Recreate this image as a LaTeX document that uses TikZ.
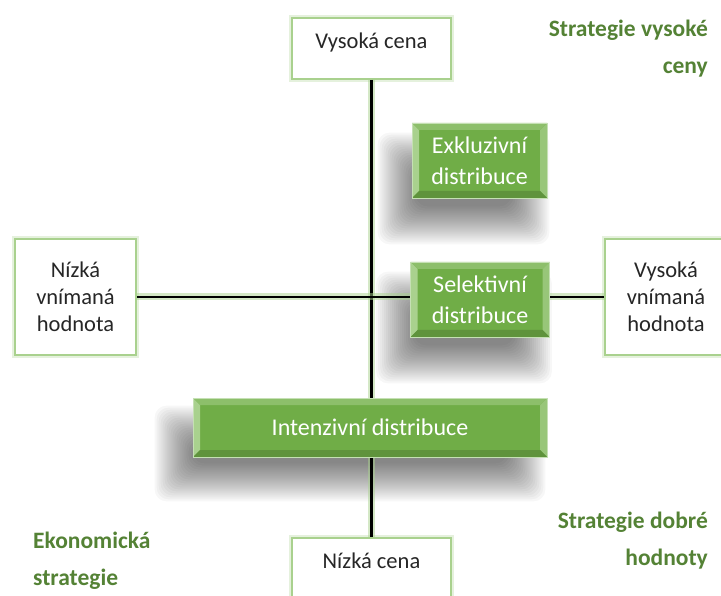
\documentclass[tikz,border=0pt]{standalone}
\usepackage{fontspec}
\setmainfont{Carlito}
\usetikzlibrary{calc,backgrounds}
\definecolor{gbox}{HTML}{70AD47}
\definecolor{glight}{HTML}{A9D18E}
\definecolor{gpale}{HTML}{C5E0B4}
\definecolor{gtxt}{HTML}{548235}
\definecolor{ink}{HTML}{262626}
\tikzset{
  whitebox/.style={fill=white, draw=glight, line width=2pt, text=ink,
    align=center, inner sep=0pt, font=\fontsize{22.5}{27}\selectfont,
    preaction={draw=gpale, line width=6pt, opacity=0.45}},
  greenbox/.style={fill=gbox, draw=gpale, line width=0.8pt, text=white,
    align=center, inner sep=0pt, font=\fontsize{24}{31}\selectfont,
    path picture={
      \fill[glight] (path picture bounding box.north west) -- ++(7pt,-7pt) -- ($(path picture bounding box.south west)+(7pt,7pt)$) -- (path picture bounding box.south west) -- cycle;
      \fill[glight!70!gbox] (path picture bounding box.north east) -- ++(-7pt,-7pt) -- ($(path picture bounding box.south east)+(-7pt,7pt)$) -- (path picture bounding box.south east) -- cycle;
      \fill[glight!50!gbox] (path picture bounding box.north west) -- (path picture bounding box.north east) -- ++(-7pt,-7pt) -- ($(path picture bounding box.north west)+(7pt,-7pt)$) -- cycle;
      \fill[gbox!85!black] (path picture bounding box.south west) -- (path picture bounding box.south east) -- ++(-7pt,7pt) -- ($(path picture bounding box.south west)+(7pt,7pt)$) -- cycle;
    }},
  shadowlayer/.style={fill=black, opacity=0.03, rounded corners=12pt},
  axis/.style={draw=black, line width=2.5pt,
    preaction={draw=glight, line width=7pt, opacity=0.5}},
  strat/.style={text=gtxt, font=\fontsize{23.5}{37}\selectfont\bfseries, inner sep=0pt},
}
\newcommand\softshadow[3]{% node, xshift, yshift (pt, y up)
  \begin{scope}[on background layer]
  \foreach \e in {-20,-18,...,18}{
    \fill[shadowlayer] ($(#1.south west)+(#2pt-1pt*\e,#3pt-1pt*\e)$) rectangle ($(#1.north east)+(#2pt+1pt*\e,#3pt+1pt*\e)$);
  }
  \end{scope}}
\begin{document}
\begin{tikzpicture}[x=1pt,y=-1pt]
\useasboundingbox (0,0) rectangle (721,596);
% outer boxes
\node[whitebox, minimum width=159pt, minimum height=61pt, text depth=16pt] (vc) at (371.5,48.5) {Vysoká cena};
\node[whitebox, minimum width=159pt, minimum height=61pt, text depth=16pt] (nc) at (371.5,568.5) {Nízká cena};
\node[whitebox, minimum width=121pt, minimum height=116pt] (nvh) at (75.5,297) {Nízká\\vnímaná\\hodnota};
\node[whitebox, minimum width=122pt, minimum height=116pt] (vvh) at (666,297) {Vysoká\\vnímaná\\hodnota};
% axes
\draw[axis] (vc.south) -- (nc.north);
\draw[axis] (nvh.east) -- (vvh.west);
% green boxes
\node[greenbox, minimum width=135pt, minimum height=75pt] (exk) at (479.5,160.5) {Exkluzivní\\distribuce};
\node[greenbox, minimum width=139pt, minimum height=75pt] (sel) at (480,299.5) {Selektivní\\distribuce};
\node[greenbox, minimum width=354pt, minimum height=59pt] (int) at (370,427.5) {Intenzivní distribuce};
\softshadow{exk}{-16}{-28}
\softshadow{sel}{-16}{-28}
\softshadow{int}{-20}{-26}
% strategy labels
\node[strat, align=right, anchor=east] (svc) at (708,49) {Strategie vysoké\\ceny};
\node[strat, align=right, anchor=east] (sdh) at (708,541) {Strategie dobré\\hodnoty};
\node[strat, align=left, anchor=west] (eks) at (33,561) {Ekonomická\\strategie};
\end{tikzpicture}
\end{document}
